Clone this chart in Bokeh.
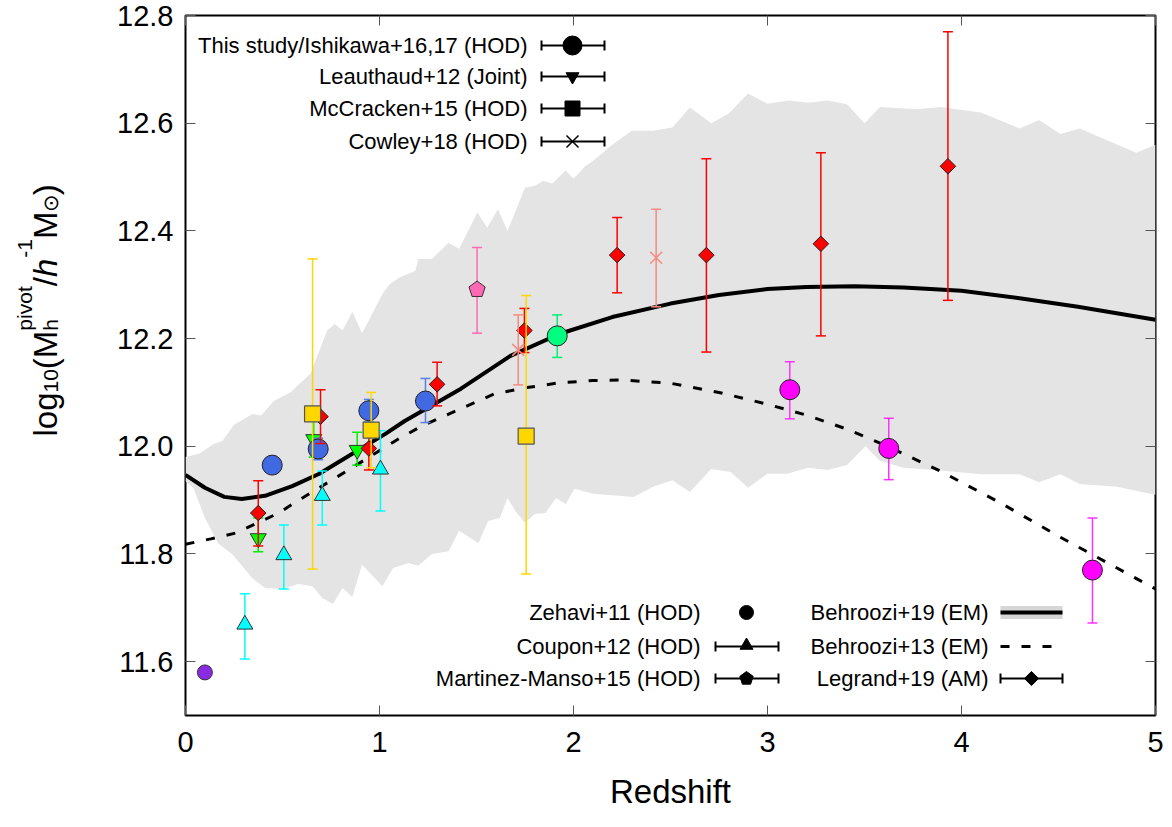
import numpy as np
from bokeh.plotting import figure
from bokeh.layouts import row
from bokeh.models import (Range1d, LinearAxis, Label, FixedTicker, NumeralTickFormatter,
                          CustomJSTickFormatter)
from bokeh.embed import file_html
from bokeh.resources import INLINE

# ---------------- data ----------------
x_ticks = [0, 1, 2, 3, 4, 5]
y_ticks = [11.6, 11.8, 12.0, 12.2, 12.4, 12.6, 12.8]

# Behroozi+19 (EM) median and band
b19_z = [0, 0.1, 0.2, 0.29, 0.41, 0.55, 0.69, 0.86, 1.03, 1.13, 1.42, 1.675, 1.93, 2.2,
         2.5, 2.75, 3.0, 3.2, 3.45, 3.7, 4.0, 4.3, 4.6, 5.0]
b19_m = [11.947, 11.923, 11.906, 11.902, 11.908, 11.926, 11.949, 11.986, 12.023, 12.047,
         12.107, 12.168, 12.209, 12.24, 12.265, 12.281, 12.292, 12.296, 12.297, 12.295,
         12.289, 12.275, 12.259, 12.235]
band_up_z = [0, 0.07, 0.145, 0.19, 0.25, 0.345, 0.39, 0.455, 0.54, 0.645, 0.73, 0.77, 0.81,
             0.86, 0.91, 1.015, 1.05, 1.1, 1.185, 1.2, 1.27, 1.356, 1.41, 1.505, 1.555, 1.61,
             1.66, 1.75, 1.8, 1.845, 1.89, 1.96, 2.0, 2.06, 2.1, 2.2, 2.3, 2.41, 2.51, 2.6,
             2.71, 2.8, 2.9, 3.0, 3.11, 3.21, 3.31, 3.41, 3.5, 3.58, 3.77, 3.89, 4.1, 4.3,
             4.4, 4.51, 4.61, 4.9, 5.0]
band_up_y = [11.98, 11.986, 12.004, 12.01, 12.04, 12.06, 12.057, 12.084, 12.1, 12.135, 12.215,
             12.227, 12.215, 12.25, 12.21, 12.283, 12.3, 12.313, 12.326, 12.348, 12.348,
             12.378, 12.367, 12.434, 12.406, 12.44, 12.4, 12.48, 12.484, 12.493, 12.488,
             12.512, 12.497, 12.52, 12.53, 12.56, 12.586, 12.586, 12.592, 12.629, 12.6,
             12.618, 12.655, 12.636, 12.642, 12.638, 12.642, 12.635, 12.6, 12.63, 12.626,
             12.63, 12.62, 12.59, 12.606, 12.58, 12.59, 12.545, 12.56]
band_lo_z = [0, 0.04, 0.1, 0.17, 0.24, 0.345, 0.41, 0.5, 0.58, 0.655, 0.705, 0.76, 0.81, 0.86,
             0.91, 1.015, 1.07, 1.15, 1.2, 1.27, 1.356, 1.41, 1.51, 1.56, 1.62, 1.66, 1.7,
             1.75, 1.8, 1.856, 1.91, 1.96, 2.005, 2.1, 2.31, 2.41, 2.51, 2.6, 2.71, 2.81,
             2.9, 3.0, 3.1, 3.21, 3.31, 3.41, 3.505, 3.58, 3.7, 3.89, 4.1, 4.3, 4.4, 4.51,
             4.61, 4.8, 5.0]
band_lo_y = [11.935, 11.923, 11.867, 11.819, 11.8, 11.755, 11.737, 11.735, 11.744, 11.74,
             11.718, 11.707, 11.737, 11.72, 11.78, 11.74, 11.774, 11.783, 11.778, 11.8,
             11.805, 11.843, 11.82, 11.861, 11.867, 11.904, 11.88, 11.858, 11.874, 11.876,
             11.904, 11.893, 11.921, 11.912, 11.906, 11.925, 11.937, 11.915, 11.958, 11.952,
             11.923, 11.949, 11.949, 11.96, 11.956, 11.965, 12.0, 11.973, 11.96, 11.955,
             11.948, 11.948, 11.933, 11.948, 11.93, 11.925, 11.91]

# Behroozi+13 (EM)
b13_z = [0, 0.13, 0.26, 0.48, 0.58, 0.79, 1.1, 1.22, 1.42, 1.59, 1.76, 1.93, 2.1, 2.25,
         2.5, 2.75, 3.0, 3.2, 3.4, 3.6, 3.89, 4.2, 4.5, 5.0]
b13_m = [11.818, 11.828, 11.839, 11.876, 11.899, 11.945, 12.014, 12.038, 12.07, 12.097,
         12.109, 12.118, 12.122, 12.123, 12.117, 12.1, 12.078, 12.058, 12.033, 12.003,
         11.954, 11.895, 11.833, 11.735]

# This study / Ishikawa+16,17 (HOD)
ish_z = [0.447, 0.684, 0.945, 1.237, 1.916, 3.115, 3.625, 4.675]
ish_m = [11.965, 11.995, 12.066, 12.084, 12.205, 12.105, 11.996, 11.77]
ish_lo = [11.95, 11.975, 12.045, 12.044, 12.165, 12.051, 11.938, 11.672]
ish_hi = [11.98, 12.015, 12.087, 12.126, 12.244, 12.157, 12.052, 11.867]
ish_fill = ["#4169e1"] * 4 + ["#00ff7f"] + ["#ff00ff"] * 3
ish_bar = ["#5b7fe6"] * 4 + ["#00ee77"] + ["#ff33ff"] * 3

# Zehavi+11 (HOD)
zeh_z = [0.1]
zeh_m = [11.58]

# Coupon+12 (HOD)
cou_z = [0.306, 0.507, 0.705, 1.005]
cou_m = [11.669, 11.798, 11.908, 11.957]
cou_lo = [11.605, 11.735, 11.854, 11.88]
cou_hi = [11.726, 11.854, 11.954, 12.029]

# Leauthaud+12 (Joint)
lea_z = [0.375, 0.661, 0.885]
lea_m = [11.829, 12.013, 11.993]
lea_lo = [11.804, 11.98, 11.965]
lea_hi = [11.867, 12.047, 12.026]

# McCracken+15 (HOD)
mcc_z = [0.655, 0.957, 1.756]
mcc_m = [12.06, 12.03, 12.019]
mcc_lo = [11.772, 11.96, 11.763]
mcc_hi = [12.348, 12.1, 12.28]

# Cowley+18 (HOD)
cow_z = [1.715, 2.426]
cow_m = [12.179, 12.35]
cow_lo = [12.114, 12.259]
cow_hi = [12.244, 12.44]

# Martinez-Manso+15 (HOD)
mm_z = [1.503]
mm_m = [12.291]
mm_lo = [12.21]
mm_hi = [12.369]

# Legrand+19 (AM)
leg_z = [0.375, 0.696, 0.945, 1.297, 1.747, 2.225, 2.685, 3.275, 3.93]
leg_m = [11.876, 12.055, 11.996, 12.115, 12.215, 12.355, 12.355, 12.376, 12.52]
leg_lo = [11.815, 12.005, 11.956, 12.075, 12.174, 12.285, 12.175, 12.205, 12.271]
leg_hi = [11.936, 12.105, 12.036, 12.156, 12.256, 12.425, 12.534, 12.545, 12.77]

# ---------------- layout ----------------
W, H = 1172, 827
LW = 100                     # width of the strip that carries the y label
FL, FR, FT, FB = 185, 1155, 15, 715
X0, X1 = 0.0, 5.0
Y0, Y1 = 11.5, 12.8
SX = (X1 - X0) / (FR - FL)
SY = (Y1 - Y0) / (FB - FT)
FONT = "Liberation Sans"


def dx(px):
    return X0 + (px - FL) * SX


def dy(py):
    return Y1 - (py - FT) * SY


p = figure(width=W - LW, height=H, x_range=Range1d(X0, X1), y_range=Range1d(Y0, Y1),
           output_backend="svg", toolbar_location=None,
           min_border_left=FL - LW, min_border_right=W - FR, min_border_top=FT,
           min_border_bottom=H - FB)
p.grid.visible = False
p.outline_line_color = "black"
p.outline_line_width = 2
p.background_fill_color = "white"
p.border_fill_color = "white"

p.xaxis.ticker = FixedTicker(ticks=x_ticks)
p.yaxis.ticker = FixedTicker(ticks=y_ticks)
p.yaxis.formatter = NumeralTickFormatter(format="0.0")
for ax in [p.xaxis[0], p.yaxis[0]]:
    ax.axis_line_color = None
    ax.major_tick_in = 10
    ax.major_tick_out = 0
    ax.major_tick_line_color = "#555555"
    ax.minor_tick_line_color = None
    ax.major_label_text_font = FONT
    ax.major_label_text_font_size = "29px"
    ax.major_label_text_color = "black"
p.yaxis.major_label_standoff = 12
p.xaxis.major_label_standoff = 16
p.xaxis.axis_label = "Redshift"
p.xaxis.axis_label_text_font = FONT
p.xaxis.axis_label_text_font_size = "33px"
p.xaxis.axis_label_text_font_style = "normal"
p.xaxis.axis_label_text_color = "black"
p.xaxis.axis_label_standoff = 18

blank = CustomJSTickFormatter(code="return ''")
for loc, tk in [("right", y_ticks), ("above", x_ticks)]:
    ax = LinearAxis(ticker=FixedTicker(ticks=tk), formatter=blank, axis_line_color=None,
                    major_tick_in=10, major_tick_out=0, major_tick_line_color="#555555",
                    minor_tick_line_color=None, major_label_standoff=0)
    p.add_layout(ax, loc)

# ---------------- band and lines ----------------
p.patch(x=list(band_up_z) + list(band_lo_z[::-1]), y=list(band_up_y) + list(band_lo_y[::-1]),
        fill_color="#e4e4e4", line_color=None)
p.line(b19_z, b19_m, line_color="black", line_width=4, line_join="round")
p.line(b13_z, b13_m, line_color="black", line_width=3, line_dash="9 12")


# ---------------- data points ----------------
def errbars(z, lo, hi, color, lw=1.5, cap=5):
    z = np.asarray(z, dtype=float)
    p.segment(x0=z, y0=lo, x1=z, y1=hi, line_color=color, line_width=lw)
    p.segment(x0=z - cap * SX, y0=lo, x1=z + cap * SX, y1=lo, line_color=color, line_width=lw)
    p.segment(x0=z - cap * SX, y0=hi, x1=z + cap * SX, y1=hi, line_color=color, line_width=lw)


def pentagon(zc, mc, r):
    xs, ys = [], []
    for z0, m0 in zip(zc, mc):
        ang = np.pi / 2 + np.arange(5) * 2 * np.pi / 5
        xs.append(list(z0 + r * np.cos(ang) * SX))
        ys.append(list(m0 + r * np.sin(ang) * SY))
    return xs, ys


OUT = "#333333"
p.scatter(zeh_z, zeh_m, marker="circle", size=15, fill_color="#8a2be2", line_color=OUT,
          line_width=1)
errbars(cou_z, cou_lo, cou_hi, "#00ffff")
p.scatter(cou_z, cou_m, marker="triangle", size=16, fill_color="#00ffff", line_color=OUT,
          line_width=1)
errbars(lea_z, lea_lo, lea_hi, "#00ee00")
p.scatter(lea_z, lea_m, marker="inverted_triangle", size=16, fill_color="#00ff00",
          line_color=OUT, line_width=1)
errbars(ish_z, ish_lo, ish_hi, ish_bar)
p.scatter(ish_z, ish_m, marker="circle", size=20, fill_color=ish_fill, line_color="#222222",
          line_width=1)
errbars(leg_z, leg_lo, leg_hi, "#ff0000")
p.scatter(leg_z, leg_m, marker="square", angle=np.pi / 4, size=11, fill_color="#ff0000",
          line_color="#222222", line_width=1)
errbars(mcc_z, mcc_lo, mcc_hi, "#ffd700")
p.scatter(mcc_z, mcc_m, marker="square", size=16, fill_color="#ffd700", line_color="#555555",
          line_width=1.2)
errbars(cow_z, cow_lo, cow_hi, "#f58a80")
p.scatter(cow_z, cow_m, marker="x", size=17, line_color="#f58a80", line_width=1.5)
errbars(mm_z, mm_lo, mm_hi, "#ff69b4")
pxs, pys = pentagon(mm_z, mm_m, 8.5)
p.patches(pxs, pys, fill_color="#ff69b4", line_color=OUT, line_width=1)


# ---------------- legends ----------------
def leg_text(px, py, txt):
    p.add_layout(Label(x=dx(px), y=dy(py), text=txt, text_align="right",
                       text_baseline="middle", text_font=FONT, text_font_size="22px",
                       text_color="black"))


def leg_bar(px0, px1, py):
    p.segment(x0=[dx(px0)], y0=[dy(py)], x1=[dx(px1)], y1=[dy(py)], line_color="black",
              line_width=2)
    for xx in (px0, px1):
        p.segment(x0=[dx(xx)], y0=[dy(py - 5)], x1=[dx(xx)], y1=[dy(py + 5)],
                  line_color="black", line_width=2)


L1_TX, L1_A, L1_B, L1_M = 527, 541, 604, 572
rows1 = [45, 76, 108, 141]
leg_text(L1_TX, rows1[0], "This study/Ishikawa+16,17 (HOD)")
leg_bar(L1_A, L1_B, rows1[0])
p.scatter([dx(L1_M)], [dy(rows1[0])], marker="circle", size=19, fill_color="black",
          line_color="black")
leg_text(L1_TX, rows1[1], "Leauthaud+12 (Joint)")
leg_bar(L1_A, L1_B, rows1[1])
p.scatter([dx(L1_M)], [dy(rows1[1])], marker="inverted_triangle", size=13, fill_color="black",
          line_color="black")
leg_text(L1_TX, rows1[2], "McCracken+15 (HOD)")
leg_bar(L1_A, L1_B, rows1[2])
p.scatter([dx(L1_M)], [dy(rows1[2])], marker="square", size=15, fill_color="black",
          line_color="black")
leg_text(L1_TX, rows1[3], "Cowley+18 (HOD)")
leg_bar(L1_A, L1_B, rows1[3])
p.scatter([dx(L1_M)], [dy(rows1[3])], marker="x", size=17, line_color="black", line_width=1.5)

L2_TX, L2_A, L2_B, L2_M = 700, 715, 778, 746
rows2 = [612, 646, 678]
leg_text(L2_TX, rows2[0], "Zehavi+11 (HOD)")
p.scatter([dx(L2_M)], [dy(rows2[0])], marker="circle", size=14, fill_color="black",
          line_color="black")
leg_text(L2_TX, rows2[1], "Coupon+12 (HOD)")
leg_bar(L2_A, L2_B, rows2[1])
p.scatter([dx(L2_M)], [dy(rows2[1] - 1)], marker="triangle", size=13, fill_color="black",
          line_color="black")
leg_text(L2_TX, rows2[2], "Martinez-Manso+15 (HOD)")
leg_bar(L2_A, L2_B, rows2[2])
lx, ly = pentagon([dx(L2_M)], [dy(rows2[2])], 7)
p.patches(lx, ly, fill_color="black", line_color="black")

L3_TX, L3_A, L3_B, L3_M = 988, 1000, 1062, 1031
leg_text(L3_TX, rows2[0], "Behroozi+19 (EM)")
p.segment(x0=[dx(L3_A)], y0=[dy(rows2[0])], x1=[dx(L3_B)], y1=[dy(rows2[0])],
          line_color="#d6d6d6", line_width=13)
p.segment(x0=[dx(L3_A)], y0=[dy(rows2[0])], x1=[dx(L3_B)], y1=[dy(rows2[0])],
          line_color="black", line_width=4)
leg_text(L3_TX, rows2[1], "Behroozi+13 (EM)")
p.segment(x0=[dx(L3_A)], y0=[dy(rows2[1])], x1=[dx(L3_B)], y1=[dy(rows2[1])],
          line_color="black", line_width=3, line_dash="9 12")
leg_text(L3_TX, rows2[2], "Legrand+19 (AM)")
leg_bar(L3_A, L3_B, rows2[2])
p.scatter([dx(L3_M)], [dy(rows2[2])], marker="square", angle=np.pi / 4, size=10,
          fill_color="black", line_color="black")

# ---------------- y-axis label (composed, rotated) in its own strip ----------------
# strip frame has the same top/bottom borders as the main plot; coordinates are pixels
lab = figure(width=LW, height=H, x_range=Range1d(0, LW), y_range=Range1d(FB, FT),
             output_backend="svg", toolbar_location=None, min_border_left=0,
             min_border_right=0, min_border_top=FT, min_border_bottom=H - FB)
lab.axis.visible = False
lab.grid.visible = False
lab.outline_line_color = None
lab.background_fill_color = "white"
lab.border_fill_color = "white"

adv = {'l': 222, 'o': 556, 'g': 556, '1': 556, '0': 556, '(': 333, 'M': 833, 'h': 556,
       'p': 556, 'i': 222, 'v': 500, 't': 278, '/': 278, '-': 333, ')': 333, '\u2299': 780}


def tw(s, size):
    return sum(adv.get(c, 556) for c in s) * size / 1000.0


BIG, SMALL = 33, 21
BASE_X, START_Y = 45, 436
pieces = [("log", BIG, 0, True, "normal"), ("10", SMALL, 5, True, "normal"),
          ("(M", BIG, 0, True, "normal"), ("h", SMALL, 5, False, "normal"),
          ("pivot", SMALL, -21, True, "normal"), ("/", BIG, 0, True, "normal"),
          ("h", BIG, 0, True, "italic"), ("-1", SMALL, -21, True, "normal"),
          ("M", BIG, 0, True, "normal"), ("\u2299", SMALL, 5, True, "normal"),
          (")", BIG, 0, True, "normal")]
cur = START_Y
for txt, size, shift, advance, style in pieces:
    lab.add_layout(Label(x=BASE_X + shift, y=cur, text=txt, angle=np.pi / 2,
                         text_align="left", text_baseline="alphabetic", text_font=FONT,
                         text_font_size=f"{size}px", text_font_style=style,
                         text_color="black"))
    if advance:
        cur -= tw(txt, size) + (1 if style == "italic" else 0)

layout = row(lab, p, spacing=0)
open("out.html", "w").write(file_html(layout, INLINE))
